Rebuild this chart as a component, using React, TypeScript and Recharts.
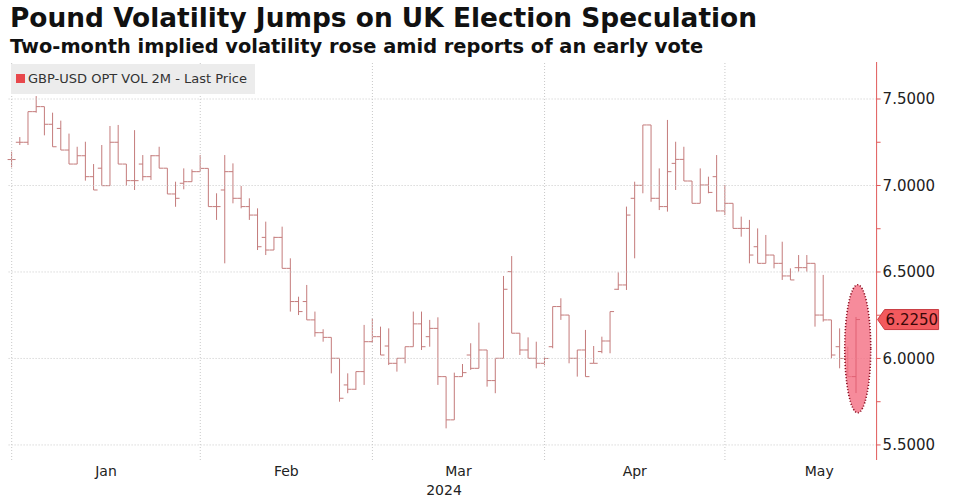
import React from "react";
import {
  ComposedChart,
  Bar,
  XAxis,
  YAxis,
  ReferenceLine,
  ReferenceDot,
} from "recharts";

// daily OHLC of GBP-USD 2M implied vol, weekdays from 1 Jan 2024
const opens = [
  7.15, 7.25, 7.25, 7.427, 7.456, 7.354, 7.33, 7.205, 7.124, 7.172, 7.051, 7.1, 6.999, 7.25, 7.124, 7.028, 7.124, 7.051, 7.172, 7.1, 6.951, 7.013, 7.022,
  7.08, 7.099, 6.878, 6.974, 7.08, 6.926, 6.878, 6.829, 6.7, 6.627, 6.7, 6.521, 6.329, 6.329, 6.223, 6.149, 6.122, 6.001, 5.847, 5.822, 5.924,
  6.097, 6.126, 6.072, 5.972, 6.001, 6.068, 6.2, 6.126, 6.174, 5.895, 5.645, 5.895, 6.02, 5.943, 6.049, 5.872, 6.001, 6.502, 6.146, 6.049, 6.001,
  5.972, 6.068, 6.3, 6.251, 6.001, 6.049, 5.972, 6.04, 6.101, 6.4, 6.425, 6.926, 7.001, 7.35, 6.926, 6.878, 7.128, 7.151, 7.026, 6.897, 7.003, 7.051,
  6.853, 6.897, 6.752, 6.752, 6.646, 6.55, 6.598, 6.55, 6.477, 6.525, 6.525, 6.55, 6.251, 6.223, 6.068, 6.0, 5.895,
];
const highs = [
  7.195, 7.28, 7.427, 7.517, 7.456, 7.421, 7.375, 7.3, 7.224, 7.253, 7.124, 7.234, 7.344, 7.35, 7.124, 7.32, 7.176, 7.176, 7.224, 7.1, 7.022, 7.099, 7.093,
  7.176, 7.099, 6.955, 7.176, 7.128, 6.997, 6.926, 6.868, 6.791, 6.704, 6.762, 6.579, 6.357, 6.425, 6.271, 6.169, 6.122, 6.001, 5.914, 5.924, 6.194,
  6.232, 6.184, 6.174, 6.001, 6.068, 6.271, 6.271, 6.223, 6.238, 5.895, 5.918, 5.968, 6.088, 6.207, 6.049, 6.001, 6.477, 6.592, 6.146, 6.122, 6.097,
  6.01, 6.3, 6.348, 6.251, 6.049, 6.165, 6.072, 6.126, 6.271, 6.498, 6.878, 7.022, 7.35, 7.35, 7.099, 7.379, 7.253, 7.224, 7.026, 7.099, 7.051, 7.176,
  7.003, 6.897, 6.82, 6.801, 6.752, 6.714, 6.598, 6.675, 6.521, 6.598, 6.598, 6.55, 6.483, 6.223, 6.174, 6.068, 6.24,
];
const lows = [
  7.105, 7.234, 7.234, 7.421, 7.29, 7.224, 7.205, 7.124, 7.124, 7.028, 6.974, 6.999, 6.999, 7.124, 6.999, 6.974, 7.028, 7.032, 7.1, 6.951, 6.877, 6.978, 7.022,
  7.08, 6.878, 6.801, 6.55, 6.897, 6.868, 6.801, 6.627, 6.598, 6.627, 6.521, 6.271, 6.251, 6.223, 6.126, 6.097, 5.914, 5.75, 5.799, 5.818, 5.847,
  6.09, 6.02, 5.962, 5.924, 5.972, 6.068, 6.049, 6.068, 5.847, 5.596, 5.645, 5.895, 5.934, 5.943, 5.837, 5.799, 6.001, 6.146, 6.02, 6.001, 5.943,
  5.96, 6.059, 6.223, 5.972, 5.895, 5.895, 5.972, 6.03, 6.03, 6.396, 6.396, 6.579, 6.955, 6.906, 6.858, 6.849, 6.974, 7.026, 6.897, 6.897, 6.955, 6.849,
  6.829, 6.752, 6.704, 6.55, 6.55, 6.55, 6.521, 6.454, 6.454, 6.502, 6.502, 6.184, 6.213, 6.001, 5.943, 5.895, 5.8,
];
const closes = [
  7.15, 7.25, 7.427, 7.456, 7.354, 7.224, 7.205, 7.124, 7.172, 7.051, 6.974, 6.999, 7.25, 7.124, 7.028, 7.028, 7.051, 7.172, 7.1, 6.951, 6.926, 7.022, 7.08,
  7.099, 6.878, 6.878, 7.08, 6.926, 6.878, 6.829, 6.646, 6.627, 6.7, 6.521, 6.329, 6.271, 6.223, 6.149, 6.122, 6.001, 5.77, 5.822, 5.924, 6.097,
  6.126, 6.02, 5.972, 6.001, 6.068, 6.2, 6.068, 6.174, 5.895, 5.645, 5.895, 5.918, 5.943, 6.049, 5.872, 6.001, 6.4, 6.146, 6.049, 6.001, 5.972,
  6.0, 6.3, 6.251, 6.001, 6.049, 5.895, 5.972, 6.101, 6.271, 6.425, 6.829, 7.001, 7.35, 6.926, 6.878, 7.08, 7.151, 7.026, 6.897, 7.003, 6.96, 6.853,
  6.897, 6.752, 6.752, 6.598, 6.55, 6.598, 6.55, 6.477, 6.454, 6.525, 6.55, 6.251, 6.223, 6.02, 6.0, 5.895, 6.225,
];

const months = ["Jan", "Feb", "Mar", "Apr", "May"];
const monthStarts = [0, 23, 44, 65, 87, 110]; // index of first weekday of each month
const yTicks = [5.5, 5.75, 6, 6.25, 6.5, 6.75, 7, 7.25, 7.5];
const gridValues = [5.5, 6, 6.5, 7, 7.5];

const SLOTS = 106;
const data = Array.from({ length: SLOTS }, (_, i) =>
  i < opens.length
    ? { i, o: opens[i], h: highs[i], l: lows[i], c: closes[i] }
    : { i }
);
const lastIdx = opens.length - 1;
const lastPrice = closes[lastIdx];
const monthMids = months.map((_, k) => (monthStarts[k] + monthStarts[k + 1]) / 2);

const BAR = "#c47b7b";
const FONT = "'DejaVu Sans', sans-serif";

const OhlcShape = (props: any) => {
  const { x, y, width, height, payload, index } = props;
  if (!payload || payload.h == null) return null;
  const top = Math.min(y, y + height);
  const bottom = Math.max(y, y + height);
  const span = payload.h - payload.l;
  const toY = (v: number) => (span > 0 ? top + ((payload.h - v) / span) * (bottom - top) : top);
  const cx = x + width / 2;
  const oy = toY(payload.o);
  const cy = toY(payload.c);
  const col = index === lastIdx ? "#8e2a36" : BAR;
  return (
    <g stroke={col} strokeWidth={1}>
      <line x1={cx} x2={cx} y1={top} y2={bottom} />
      <line x1={cx - 4} x2={cx} y1={oy} y2={oy} />
      <line x1={cx} x2={cx + 4} y1={cy} y2={cy} />
    </g>
  );
};

const YTick = (p: any) => {
  const v = p.payload.value;
  if (Math.abs(v * 2 - Math.round(v * 2)) > 1e-6) return null;
  return (
    <text x={p.x} y={p.y} dy="0.36em" fontSize={15} fill="#222" fontFamily={FONT}>
      {v.toFixed(4)}
    </text>
  );
};

const MonthTick = (p: any) => {
  const k = monthMids.indexOf(p.payload.value);
  return (
    <text x={p.x} y={p.y + 16} textAnchor="middle" fontSize={14} fill="#222" fontFamily={FONT}>
      {months[k]}
    </text>
  );
};

const PriceTag = (p: any) => {
  const { cx, cy } = p;
  return (
    <g>
      <polygon
        points={`${cx + 1},${cy} ${cx + 8},${cy - 10} ${cx + 62},${cy - 10} ${cx + 62},${cy + 10} ${cx + 8},${cy + 10}`}
        fill="#f25a5e"
        stroke="#c83a40"
      />
      <text x={cx + 9} y={cy} dy="0.36em" fontSize={15} fill="#3a0808" fontFamily={FONT}>
        {lastPrice.toFixed(4)}
      </text>
    </g>
  );
};

const Highlight = (p: any) => (
  <ellipse
    cx={p.cx}
    cy={p.cy}
    rx={13}
    ry={64}
    fill="#f46e82"
    fillOpacity={0.8}
    stroke="#8e1426"
    strokeWidth={1.6}
    strokeDasharray="1.2 1.8"
  />
);

export default function App() {
  return (
    <div
      style={{
        position: "absolute",
        left: 0,
        top: 0,
        width: 954,
        height: 501,
        background: "#fff",
        fontFamily: FONT,
        overflow: "hidden",
      }}
    >
      <div style={{ position: "absolute", left: 10, top: 3, fontSize: 26.4, fontWeight: "bold", color: "#111", lineHeight: "30px", whiteSpace: "nowrap" }}>
        Pound Volatility Jumps on UK Election Speculation
      </div>
      <div style={{ position: "absolute", left: 10, top: 35, fontSize: 19.4, fontWeight: "bold", color: "#111", lineHeight: "24px", whiteSpace: "nowrap" }}>
        Two-month implied volatility rose amid reports of an early vote
      </div>

      <ComposedChart
        width={954}
        height={501}
        data={data}
        margin={{ top: 62, right: 7.4, bottom: 0, left: 7.6 }}
      >
        <XAxis xAxisId="cat" dataKey="i" type="category" hide />
        <XAxis
          type="number"
          dataKey="i"
          domain={[-0.5, SLOTS - 0.5]}
          allowDataOverflow
          ticks={monthMids}
          tick={<MonthTick />}
          tickLine={false}
          axisLine={false}
          tickSize={0}
          tickMargin={0}
          height={41}
          interval={0}
        />
        <YAxis
          orientation="right"
          domain={[5.413, 7.714]}
          allowDataOverflow
          ticks={yTicks}
          interval={0}
          tick={<YTick />}
          tickSize={4}
          tickMargin={2}
          tickLine={{ stroke: "#e05a5a" }}
          axisLine={{ stroke: "#e05a5a" }}
          width={70}
        />
        {gridValues.map((v) => (
          <ReferenceLine key={"h" + v} y={v} stroke="#c8c8c8" strokeDasharray="1 2" />
        ))}
        {monthStarts.slice(0, months.length).map((m) => (
          <ReferenceLine key={"v" + m} x={m} stroke="#c8c8c8" strokeDasharray="1 2" />
        ))}
        <ReferenceDot x={lastIdx + 0.2} y={6.056} shape={<Highlight />} />
        <Bar
          xAxisId="cat"
          dataKey={(d: any) => (d.h == null ? null : [d.l, d.h])}
          barSize={6}
          shape={<OhlcShape />}
          isAnimationActive={false}
        />
        <ReferenceDot x={SLOTS - 0.5} y={lastPrice} shape={<PriceTag />} />
      </ComposedChart>

      <div style={{ position: "absolute", left: 11, top: 64, width: 244, height: 30, background: "#ececec" }}>
        <div style={{ position: "absolute", left: 5, top: 10, width: 9, height: 9, background: "#e8484c" }} />
        <div style={{ position: "absolute", left: 17, top: 0, lineHeight: "30px", fontSize: 13, color: "#333", whiteSpace: "nowrap" }}>
          GBP-USD OPT VOL 2M - Last Price
        </div>
      </div>
      <div style={{ position: "absolute", left: 404, width: 80, top: 482, textAlign: "center", fontSize: 14, color: "#222" }}>
        2024
      </div>
    </div>
  );
}
